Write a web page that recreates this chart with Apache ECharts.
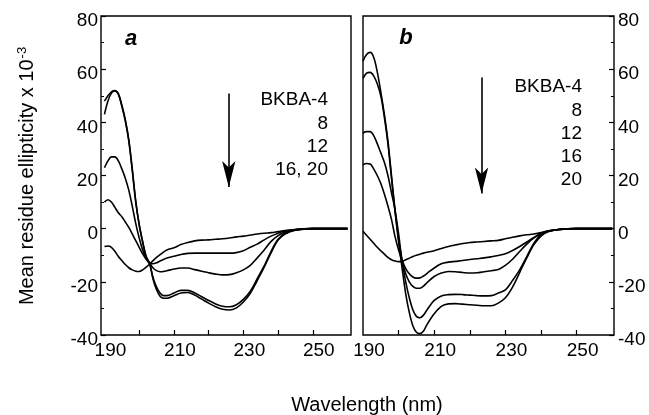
<!DOCTYPE html>
<html>
<head>
<meta charset="utf-8">
<script src="https://cdn.jsdelivr.net/npm/echarts@6/dist/echarts.min.js"></script>
<style>
  html, body { margin: 0; padding: 0; background: #fff; }
  #chart { width: 649px; height: 415px; }
</style>
</head>
<body>
<div id="chart"></div>
<script>
// wavelength grid (nm), shared by every curve
var wavelengths = [190,191,192,193,194,195,196,197,198,199,200,201,202,203,204,205,206,207,208,
                   210,212,214,216,218,220,222,224,226,228,230,232,234,236,238,240,242,245,250,255,260];

// panel a
var a4  = [-6.7,-6.5,-7,-8.5,-10.5,-12,-13.5,-14.7,-15.5,-16,-16.1,-15.5,-14.5,-13.3,-12,-10.8,-9.8,-8.8,-8,
           -7.2,-6,-5.2,-4.6,-4.3,-4.2,-4,-3.8,-3.5,-3.1,-2.8,-2.4,-2,-1.7,-1.5,-1.1,-0.7,-0.3,0,0,0];
var a8  = [10,10.9,10,8,6,4.5,2.5,0.5,-2,-4.5,-7,-9.5,-11.5,-13,-13.2,-12.8,-12.2,-11.6,-11,
           -10.4,-9.7,-9.3,-9.2,-9.2,-9.2,-9.2,-9.2,-9.2,-9,-8.3,-7,-5.8,-4.2,-2.8,-1.7,-0.9,-0.3,0,0,0];
var a12 = [22.9,25.5,27,27,25.5,22.5,19,14.5,8.5,2,-3.5,-8,-11,-13,-14.8,-15.8,-16.2,-16.1,-15.8,
           -15.2,-14.8,-14.8,-15.4,-16,-16.6,-17.1,-17.4,-17.3,-16.6,-15.5,-13.8,-11,-8,-4.8,-2.6,-1.3,-0.4,0,0,0];
var a16 = [43,48,51,51.8,50.5,46,40.5,33,22,10,1.5,-5,-10.5,-13,-18.5,-22,-24.2,-25.2,-25.2,
           -24.2,-23.2,-23.2,-24.2,-25.6,-27,-28.3,-29.2,-29.4,-28.6,-26.6,-23.5,-18.8,-14,-8.5,-4,-1.8,-0.5,0,0,0];
var a20 = [48,50,51.5,52,50.8,46.5,41,33.5,22.5,10.5,1.5,-5,-10.5,-13.2,-19,-23,-25.4,-26.2,-26.2,
           -25.2,-24.2,-24,-25,-26.5,-28,-29.4,-30.3,-30.6,-29.8,-27.6,-24.3,-19.5,-14.5,-9,-4.3,-2,-0.6,0,0,0];

// panel b
var b4  = [-1,-2.5,-4,-5.5,-7,-8.3,-9.6,-10.8,-11.7,-12.2,-12.4,-12.3,-11.7,-11.1,-10.5,-10,-9.6,-9.2,-8.9,
           -8.3,-7.5,-6.7,-6.1,-5.6,-5.2,-5,-4.8,-4.6,-4.4,-3.8,-3.2,-2.7,-2.3,-2,-1.5,-0.8,-0.3,0,0,0];
var b8  = [24,24.5,24.3,22.5,20,17,13,8.5,3.5,-3,-8,-12,-15,-17,-18.2,-18.6,-18.5,-17.8,-16.8,
           -14.8,-13.2,-12.6,-12.3,-12,-11.6,-11.3,-11,-10.6,-10.1,-9.4,-8.2,-6.7,-5,-3.3,-1.8,-0.9,-0.3,0,0,0];
var b12 = [36,36.5,36.5,35,32,28.5,25,20,13.5,7,-2,-12,-17,-20,-21.7,-22.4,-22.4,-21.6,-20.3,
           -18,-16.7,-16.1,-16.2,-16.5,-16.7,-16.6,-16.2,-15.8,-15.4,-13.8,-11.5,-8.6,-5.8,-3.5,-1.9,-0.9,-0.3,0,0,0];
var b16 = [56.5,58.5,58.8,57.5,54.5,50,42,32,19,6.5,-4,-12.5,-20,-26,-30.5,-33,-33.5,-32.5,-30.5,
           -27,-25.3,-24.8,-24.7,-24.8,-25,-25.2,-25.3,-25.2,-24.2,-23,-19.5,-15.5,-10.5,-5.5,-2.2,-1,-0.3,0,0,0];
var b20 = [63,65.5,66.3,64.5,59,51.5,43,33,20,7,-5,-15,-24.5,-31.5,-36.5,-39,-39.5,-38.5,-36,
           -32,-29.2,-28.3,-28.2,-28.4,-28.6,-28.8,-29,-29,-28,-26,-22,-16.5,-11,-6,-2.8,-1.2,-0.3,0,0,0];

var xLabelValues = [190, 210, 230, 250];
var xTickValues = [200, 210, 220, 230, 240, 250];
var legendA = ['BKBA-4', '8', '12', '16, 20'];
var legendB = ['BKBA-4', '8', '12', '16', '20'];

var FONT = '"Liberation Sans", Arial, Helvetica, sans-serif';

function pairs(vals) {
    return wavelengths.map(function (w, i) { return [w, vals[i]]; });
}

function curve(vals, idx) {
    return {
        type: 'line',
        xAxisIndex: idx,
        yAxisIndex: idx,
        data: pairs(vals),
        smooth: 0.35,
        showSymbol: false,
        lineStyle: { color: '#000', width: 1.6 },
        silent: true
    };
}

function arrow(idx, x, yTop, yTip) {
    return {
        type: 'line',
        xAxisIndex: idx,
        yAxisIndex: idx,
        data: [],
        silent: true,
        markLine: {
            silent: true,
            symbol: ['none', 'arrow'],
            symbolSize: [10, 26],
            label: { show: false },
            lineStyle: { color: '#000', width: 1.6, type: 'solid' },
            data: [[{ coord: [x, yTop] }, { coord: [x, yTip] }]]
        }
    };
}

function xAxisOf(idx, min, max) {
    return {
        type: 'value',
        gridIndex: idx,
        position: 'bottom',
        min: min,
        max: max,
        axisLine: { show: false, onZero: false },
        splitLine: { show: false },
        axisTick: { show: true, inside: true, length: 5, customValues: xTickValues, lineStyle: { color: '#000', width: 1.2 } },
        axisLabel: { customValues: xLabelValues, color: '#000', fontSize: 19, fontFamily: FONT, margin: 6, padding: [0, 0, 0, 12] }
    };
}

function yAxisOf(idx, pos) {
    return {
        type: 'value',
        gridIndex: idx,
        position: pos,
        min: -40,
        max: 80,
        interval: 20,
        axisLine: { show: false, onZero: false },
        splitLine: { show: false },
        axisTick: { show: true, inside: true, length: 5, lineStyle: { color: '#000', width: 1.2 } },
        minorTick: { show: true, splitNumber: 2, length: 3, lineStyle: { color: '#000' } },
        axisLabel: {
            color: '#000', margin: pos === 'left' ? 3 : 4,
            formatter: '{v|{value}}',
            rich: { v: { fontSize: 19, fontFamily: FONT, color: '#000', padding: [10, 0, 0, 0] } }
        }
    };
}

function legendText(lines, right, top) {
    return lines.map(function (t, i) {
        return {
            type: 'text',
            x: right,
            y: top + i * 23.3,
            style: { text: t, fill: '#000', font: '19px ' + FONT, align: 'right', verticalAlign: 'middle' }
        };
    });
}

var chart = echarts.init(document.getElementById('chart'));
chart.setOption({
    animation: false,
    backgroundColor: '#fff',
    grid: [
        { left: 101, top: 16, width: 250, height: 319, show: true, borderColor: '#000', borderWidth: 1.4, backgroundColor: 'transparent' },
        { left: 363, top: 16, width: 251, height: 319, show: true, borderColor: '#000', borderWidth: 1.4, backgroundColor: 'transparent' }
    ],
    xAxis: [xAxisOf(0, 189, 261), xAxisOf(1, 190, 260.5)],
    yAxis: [yAxisOf(0, 'left'), yAxisOf(1, 'right')],
    series: [
        curve(a4, 0), curve(a8, 0), curve(a12, 0), curve(a16, 0), curve(a20, 0),
        curve(b4, 1), curve(b8, 1), curve(b12, 1), curve(b16, 1), curve(b20, 1),
        arrow(0, 225.8, 50.8, 15.7),
        arrow(1, 223.3, 56.9, 13.2)
    ],
    graphic: [
        {
            type: 'text', x: 27, y: 176, rotation: Math.PI / 2,
            style: {
                text: 'Mean residue ellipticity x 10{sup|-3}',
                fill: '#000', font: '20px ' + FONT, align: 'center', verticalAlign: 'middle',
                rich: { sup: { fontSize: 13, fontFamily: FONT, fill: '#000', verticalAlign: 'top', padding: [0, 0, 10, 1] } }
            }
        },
        {
            type: 'text', x: 367, y: 405,
            style: { text: 'Wavelength (nm)', fill: '#000', font: '20px ' + FONT, align: 'center', verticalAlign: 'middle' }
        },
        {
            type: 'text', x: 131, y: 39,
            style: { text: 'a', fill: '#000', font: 'italic bold 22px ' + FONT, align: 'center', verticalAlign: 'middle' }
        },
        {
            type: 'text', x: 406, y: 38,
            style: { text: 'b', fill: '#000', font: 'italic bold 22px ' + FONT, align: 'center', verticalAlign: 'middle' }
        }
    ].concat(legendText(legendA, 328, 100), legendText(legendB, 582, 87))
});
</script>
</body>
</html>
